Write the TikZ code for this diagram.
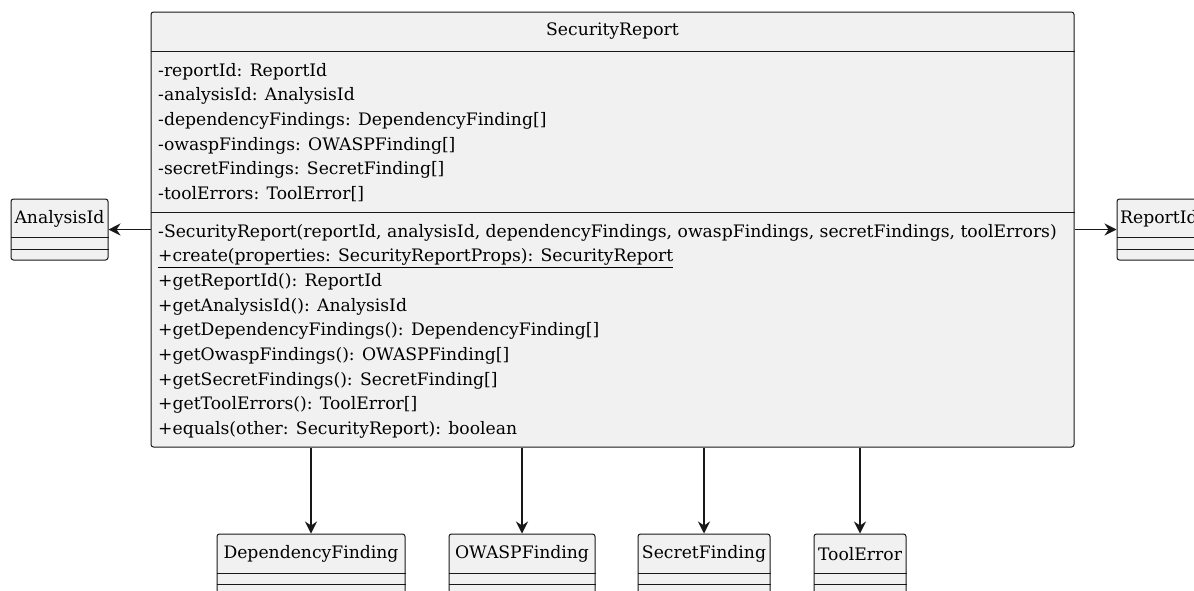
\documentclass[tikz,border=0pt]{standalone}
\usepackage{fontspec}
\setmainfont{DejaVu Serif}
\usetikzlibrary{arrows.meta}

\definecolor{umlfill}{HTML}{F1F1F1}
\definecolor{umlline}{HTML}{181818}
\newcommand{\umlfont}{\fontsize{17.2}{24.7}\selectfont}

\tikzset{
  classbox/.style={draw=umlline, fill=umlfill, line width=1pt, rounded corners=2.5pt, inner sep=0pt},
  classname/.style={font=\umlfont, inner sep=0pt},
  member/.style={font=\umlfont, anchor=base west, inner sep=0pt},
  divider/.style={draw=umlline, line width=1pt},
  assoc/.style={draw=umlline, line width=1.1pt, -{Stealth[length=12pt,width=12pt,inset=4pt]}},
}

\begin{document}
\begin{tikzpicture}[x=1pt,y=-1pt]
    \useasboundingbox (0,0) rectangle (1194,590);
    \clip (0,0) rectangle (1194,590);

    % the report class with its two compartments
    \node[classbox, minimum width=923pt, minimum height=435pt] (report) at (612.5,229.5) {};
    \node[classname] (reportname) at (612.5,31.5) {SecurityReport};
    \draw[divider] (report.west |- 0,51) -- (report.east |- 0,51);
    \draw[divider] (report.west |- 0,212) -- (report.east |- 0,212);

    % fields
    \foreach \txt [count=\i] in {
        {-reportId: ReportId},
        {-analysisId: AnalysisId},
        {-dependencyFindings: DependencyFinding[]},
        {-owaspFindings: OWASPFinding[]},
        {-secretFindings: SecretFinding[]},
        {-toolErrors: ToolError[]}}
        \node[member] (field\i) at (158,{76+24.7*(\i-1)}) {\txt};

    % operations
    \foreach \txt [count=\i] in {
        {-SecurityReport(reportId, analysisId, dependencyFindings, owaspFindings, secretFindings, toolErrors)},
        {\underline{+create(properties: SecurityReportProps): SecurityReport}},
        {+getReportId(): ReportId},
        {+getAnalysisId(): AnalysisId},
        {+getDependencyFindings(): DependencyFinding[]},
        {+getOwaspFindings(): OWASPFinding[]},
        {+getSecretFindings(): SecretFinding[]},
        {+getToolErrors(): ToolError[]},
        {+equals(other: SecurityReport): boolean}}
        \node[member] (op\i) at (158,{237+24.7*(\i-1)}) {\txt};

    % identifier classes on either side
    \node[classbox, minimum width=97pt, minimum height=61pt] (analysis) at (59.5,229.5) {};
    \node[classname] at (59.5,219) {AnalysisId};
    \node[classbox, minimum width=82pt, minimum height=61pt] (reportid) at (1158,229.5) {};
    \node[classname, anchor=west] at (1120,219) {ReportId};
    \foreach \cls in {analysis,reportid} {
        \draw[divider] (\cls.west |- 0,237) -- (\cls.east |- 0,237);
        \draw[divider] (\cls.west |- 0,249) -- (\cls.east |- 0,249);
    }
    \draw[assoc] (report.west |- analysis.east) -- (analysis.east);
    \draw[assoc] (report.east |- reportid.west) -- (reportid.west);

    % finding classes below, cut off by the page edge
    \foreach \cls/\cx/\w in {DependencyFinding/311/188, OWASPFinding/522/146,
                             SecretFinding/704/132, ToolError/860/92} {
        \node[classbox, minimum width=\w pt, minimum height=70pt] (\cls) at (\cx,569) {};
        \node[classname] at (\cx,554) {\cls};
        \draw[divider] (\cls.west |- 0,573) -- (\cls.east |- 0,573);
        \draw[divider] (\cls.west |- 0,584) -- (\cls.east |- 0,584);
        \draw[assoc] (report.south -| \cls.north) -- (\cls.north);
    }
\end{tikzpicture}
\end{document}
